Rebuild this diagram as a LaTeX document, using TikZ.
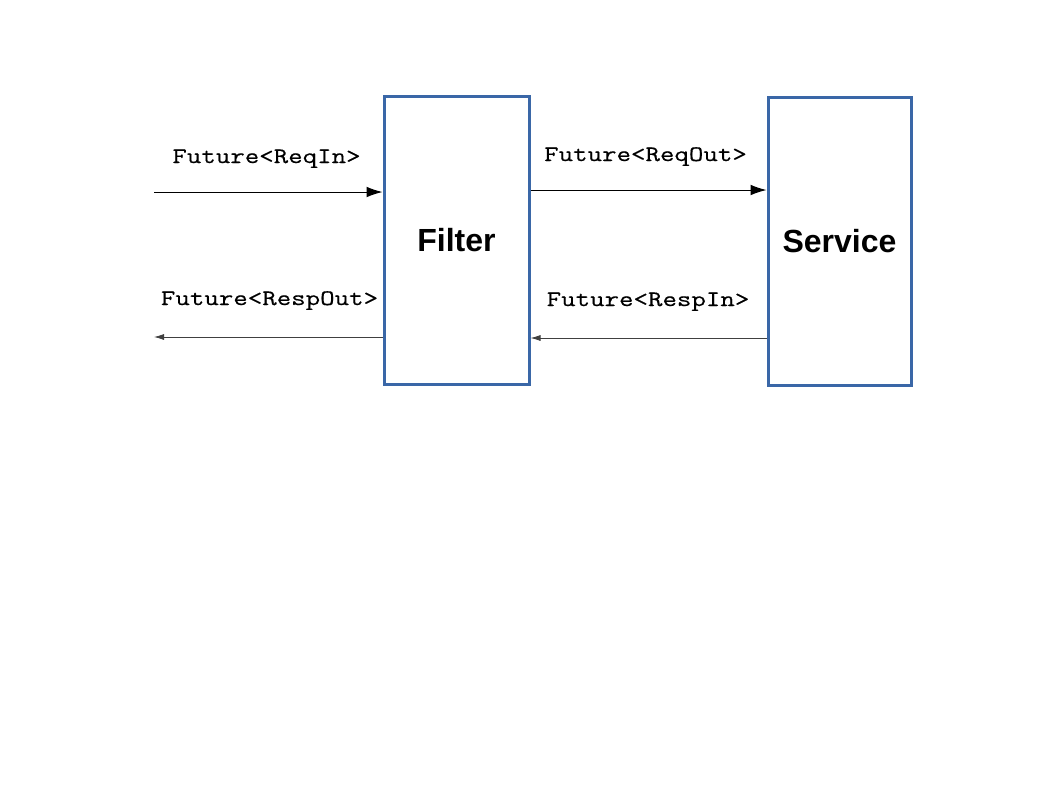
\documentclass[tikz,border=0pt]{standalone}
\usepackage{fontspec}
\setmainfont{Liberation Sans}
\setmonofont{Latin Modern Mono}[FakeStretch=1.27,FakeBold=0.5]
\usetikzlibrary{arrows.meta}
\definecolor{boxblue}{RGB}{58,103,167}

\begin{document}
\begin{tikzpicture}[x=0.75pt,y=-0.75pt,
    block/.style={draw=boxblue,line width=2.25pt,fill=white,
        font=\fontsize{24}{28}\selectfont\bfseries},
    sig/.style={font=\fontsize{16.6}{20}\selectfont\ttfamily,inner sep=0pt,anchor=base},
    big/.style={line width=0.75pt,-{Latex[length=12pt,width=8pt]}},
    small/.style={line width=0.6pt,color=black!75,-{Latex[length=7.5pt,width=4.5pt]}}]
    \useasboundingbox (0,0) rectangle (1058,794);
    \node[block,minimum width=108.75pt,minimum height=216pt] (filter) at (456.5,240) {Filter};
    \node[block,minimum width=107.25pt,minimum height=216pt] (service) at (839.5,241) {Service};
    % free ends on the left
    \coordinate (reqin) at (154,192);
    \coordinate (respout) at (154,337);
    \draw[big] (reqin) -- (reqin -| filter.west);
    \draw[small] ([yshift=-72.75pt]filter.west) -- (respout);
    \draw[big] ([yshift=37.5pt]filter.east) -- ([yshift=37.5pt]filter.east -| service.west);
    \draw[small] ([yshift=-72.75pt]service.west) -- ([yshift=-72.75pt]service.west -| filter.east);
    % labels
    \node[sig] (lreqin) at (266.5,163) {Future<ReqIn>};
    \node[sig] (lrespout) at (269.5,305) {Future<RespOut>};
    \node[sig] (lreqout) at (645.5,161) {Future<ReqOut>};
    \node[sig] (lrespin) at (648,306) {Future<RespIn>};
\end{tikzpicture}
\end{document}
